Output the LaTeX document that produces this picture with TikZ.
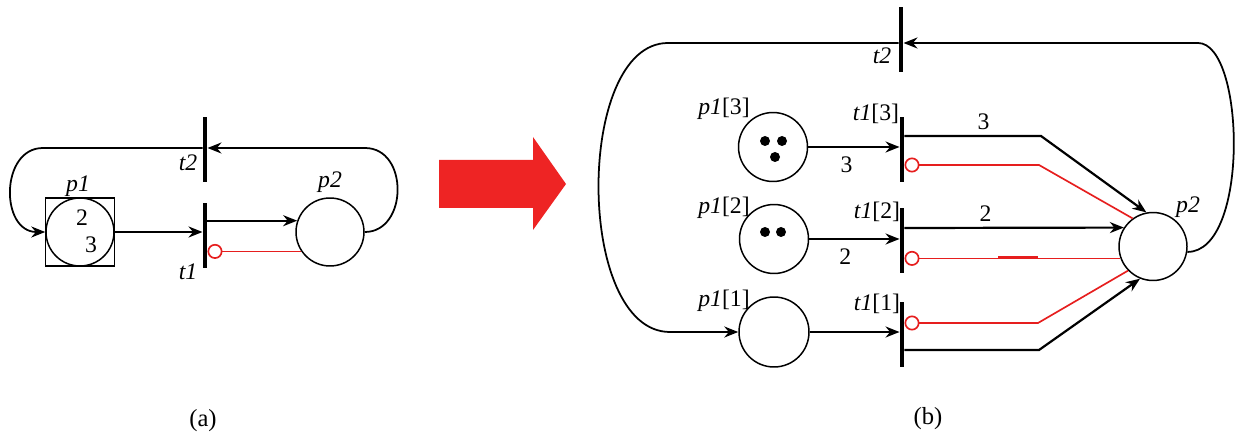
\documentclass[tikz,border=0pt]{standalone}
\usepackage{fontspec}
\setmainfont{Liberation Serif}
\usetikzlibrary{arrows.meta}
\definecolor{inhred}{RGB}{230,30,30}
\definecolor{bigred}{RGB}{238,36,36}
\begin{document}
\begin{tikzpicture}[x=0.02cm,y=-0.02cm,
  every node/.style={font=\fontsize{13.5}{16}\selectfont},
  place/.style={circle,draw,line width=0.85pt,minimum size=1.36cm,inner sep=0pt},
  trans/.style={rectangle,fill=black,minimum width=0.085cm,minimum height=1.3cm,inner sep=0pt},
  lbl/.style={inner sep=0pt},
  arc/.style={line width=1.25pt,-{Stealth[length=0.28cm,width=0.22cm]}},
  loop/.style={line width=1pt,-{Stealth[length=0.28cm,width=0.22cm]}},
  inh/.style={draw=inhred,line width=0.95pt,-{Circle[open,length=0.3cm,line width=0.95pt]}},
  token/.style={circle,fill=black,minimum size=0.2cm,inner sep=0pt}]
\useasboundingbox (0,0) rectangle (1236,435);

% ---------------- (a) ----------------
\node[place] (p1) at (80,232) {};
\node[rectangle,draw,line width=0.6pt,minimum width=1.38cm,minimum height=1.36cm,inner sep=0pt] (p1box) at (80,232) {};
\node[lbl] (p1n2) at (82,218) {2};
\node[lbl] (p1n3) at (91,245) {3};
\node[place] (p2) at (330,232) {};
\node[trans] (t1) at (205,235.5) {};
\node[trans] (t2) at (205,149.5) {};
\node[lbl] (p1l) at (78,186) {\itshape p1};
\node[lbl] (p2l) at (330,182) {\itshape p2};
\node[lbl] (t1l) at (188,272) {\itshape t1};
\node[lbl] (t2l) at (188,163) {\itshape t2};

\draw[arc] (p1.east) -- (t1.west |- p1.east);
\draw[arc] (t1.east |- p2.161) -- (p2.161);
\draw[inh] (p2.214) -- (t1.east |- p2.214);
\coordinate (aR) at (365,148);
\coordinate (aL) at (43,148);
\draw[loop] (p2.east) .. controls (408,232) and (409,148) .. (aR) -- (t2.east |- aR);
\draw[loop] (t2.west |- aL) -- (aL) .. controls (0,148) and (0,232) .. (p1.west);

\node[lbl] (capa) at (203,421) {\fontsize{14}{16}\selectfont (a)};

% ---------------- big arrow ----------------
\fill[bigred] (439,160) -- (533,160) -- (533,137) -- (566,184) -- (533,230) -- (533,208) -- (439,208) -- cycle;

% ---------------- (b) ----------------
\node[trans] (t2b) at (901,39.5) {};
\node[lbl] (t2bl) at (882,56) {\itshape t2};

\node[place,minimum size=1.38cm] (p13) at (773,147) {};
\node[place,minimum size=1.38cm] (p12) at (774,239) {};
\node[place,minimum size=1.4cm] (p11) at (774,332) {};
\node[token] (k31) at (765,141) {};
\node[token] (k32) at (782,141) {};
\node[token] (k33) at (775,157) {};
\node[token] (k21) at (765,232) {};
\node[token] (k22) at (781,232) {};
\node[lbl] (p13l) at (724,109) {{\itshape p1}[3]};
\node[lbl] (p12l) at (724,208) {{\itshape p1}[2]};
\node[lbl] (p11l) at (724,301) {{\itshape p1}[1]};

\node[trans] (t13) at (902,149.5) {};
\node[trans] (t12) at (902,240.5) {};
\node[trans] (t11) at (902,334.5) {};
\node[lbl] (t13l) at (876,114) {{\itshape t1}[3]};
\node[lbl] (t12l) at (877,212) {{\itshape t1}[2]};
\node[lbl] (t11l) at (877,304) {{\itshape t1}[1]};

\node[place] (p2b) at (1153,246.5) {};
\node[lbl] (p2bl) at (1188,207) {\itshape p2};

% input arcs
\draw[arc] (p13.east) -- (t13.west |- p13.east) node[lbl,pos=0.42,below=5pt] {3};
\draw[arc] (p12.east) -- (t12.west |- p12.east) node[lbl,pos=0.4,below=5pt] {2};
\draw[arc] (p11.east) -- (t11.west |- p11.east);

% output arcs to p2
\coordinate (b3) at (1041,136);
\draw[arc] (t13.east |- b3) -- (b3) node[lbl,pos=0.58,above=3pt] {3} -- (p2b.101);
\draw[arc] (t12.east |- 0,228) -- (p2b.147) node[lbl,pos=0.37,above=3pt] {2};
\coordinate (b1) at (1039,350);
\draw[arc] (t11.east |- b1) -- (b1) -- (p2b.248);

% inhibitor arcs
\coordinate (r3) at (1039,165);
\draw[inh] (p2b.126) -- (r3) -- (t13.east |- r3);
\draw[inh] (p2b.200) -- (t12.east |- p2b.200);
\draw[draw=inhred,line width=1.6pt] (998,257.6) -- (1038,257.6);
\coordinate (r1) at (1038,323);
\draw[inh] (p2b.224) -- (r1) -- (t11.east |- r1);

% loops
\coordinate (bR) at (1198,43);
\coordinate (bL) at (668,43);
\coordinate (bLL) at (670,332);
\draw[loop] (p2b.351) .. controls (1250,252) and (1245,43) .. (bR) -- (t2b.east |- bR);
\draw[loop] (t2b.west |- bL) -- (bL) .. controls (575,43) and (575,332) .. (bLL) -- (p11.west);

\node[lbl] (capb) at (928,419) {\fontsize{14}{16}\selectfont (b)};
\end{tikzpicture}
\end{document}
